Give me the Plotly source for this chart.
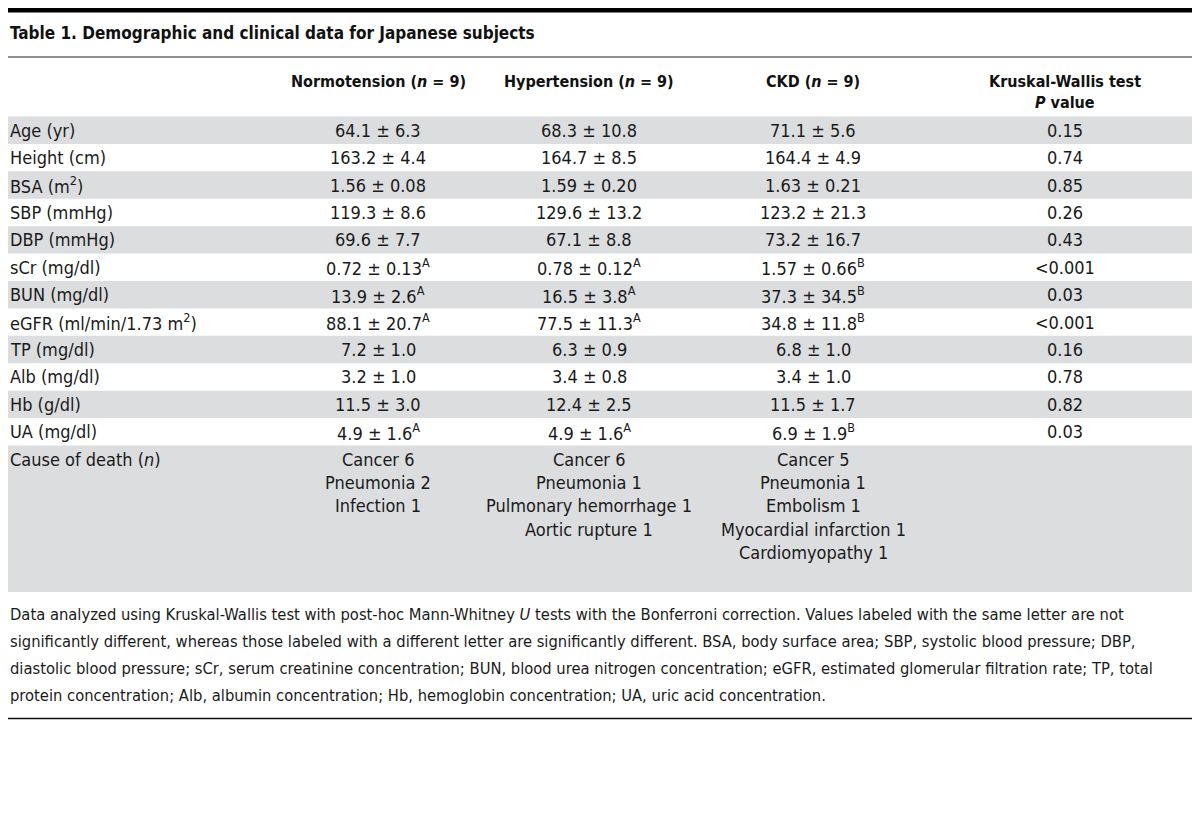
import plotly.graph_objects as go

# ---------------- data ----------------
title = "Table 1. Demographic and clinical data for Japanese subjects"
group_headers = ["Normotension (<i>n</i> = 9)", "Hypertension (<i>n</i> = 9)",
                 "CKD (<i>n</i> = 9)", "Kruskal-Wallis test"]
pvalue_header2 = "<i>P</i> value"
row_labels = ["Age (yr)", "Height (cm)", "BSA (m<sup>2</sup>)", "SBP (mmHg)", "DBP (mmHg)",
              "sCr (mg/dl)", "BUN (mg/dl)", "eGFR (ml/min/1.73 m<sup>2</sup>)", "TP (mg/dl)",
              "Alb (mg/dl)", "Hb (g/dl)", "UA (mg/dl)"]
normotension = ["64.1 ± 6.3", "163.2 ± 4.4", "1.56 ± 0.08", "119.3 ± 8.6", "69.6 ± 7.7",
                "0.72 ± 0.13", "13.9 ± 2.6", "88.1 ± 20.7", "7.2 ± 1.0", "3.2 ± 1.0",
                "11.5 ± 3.0", "4.9 ± 1.6"]
hypertension = ["68.3 ± 10.8", "164.7 ± 8.5", "1.59 ± 0.20", "129.6 ± 13.2", "67.1 ± 8.8",
                "0.78 ± 0.12", "16.5 ± 3.8", "77.5 ± 11.3", "6.3 ± 0.9", "3.4 ± 0.8",
                "12.4 ± 2.5", "4.9 ± 1.6"]
ckd = ["71.1 ± 5.6", "164.4 ± 4.9", "1.63 ± 0.21", "123.2 ± 21.3", "73.2 ± 16.7",
       "1.57 ± 0.66", "37.3 ± 34.5", "34.8 ± 11.8", "6.8 ± 1.0", "3.4 ± 1.0",
       "11.5 ± 1.7", "6.9 ± 1.9"]
normotension_sup = ["", "", "", "", "", "A", "A", "A", "", "", "", "A"]
hypertension_sup = ["", "", "", "", "", "A", "A", "A", "", "", "", "A"]
ckd_sup = ["", "", "", "", "", "B", "B", "B", "", "", "", "B"]
p_values = ["0.15", "0.74", "0.85", "0.26", "0.43", "<0.001", "0.03", "<0.001",
            "0.16", "0.78", "0.82", "0.03"]
death_label = "Cause of death (<i>n</i>)"
normotension_death = ["Cancer 6", "Pneumonia 2", "Infection 1"]
hypertension_death = ["Cancer 6", "Pneumonia 1", "Pulmonary hemorrhage 1", "Aortic rupture 1"]
ckd_death = ["Cancer 5", "Pneumonia 1", "Embolism 1", "Myocardial infarction 1", "Cardiomyopathy 1"]
footnote_lines = [
    "Data analyzed using Kruskal-Wallis test with post-hoc Mann-Whitney <i>U</i> tests with the Bonferroni correction. Values labeled with the same letter are not",
    "significantly different, whereas those labeled with a different letter are significantly different. BSA, body surface area; SBP, systolic blood pressure; DBP,",
    "diastolic blood pressure; sCr, serum creatinine concentration; BUN, blood urea nitrogen concentration; eGFR, estimated glomerular filtration rate; TP, total",
    "protein concentration; Alb, albumin concentration; Hb, hemoglobin concentration; UA, uric acid concentration.",
]

# ---------------- layout constants (page-pixel coordinates) ----------------
PAGE_W, PAGE_H = 1200, 833
OFF = 8                      # default page body margin
FIG_W, FIG_H = PAGE_W - 2 * OFF, PAGE_H - 2 * OFF
FONT = "DejaVu Sans Condensed, DejaVu Sans, sans-serif"
TXT = "#1a1a1a"
STRIPE = "#dcdddf"
FS = 18
col_x = [378, 589, 813, 1065]
label_x = OFF
row_top = 116.5
row_h = 27.42
death_bottom = 592
death_first = 459
death_step = 23.4
foot_y0 = 614
foot_step = 27

fig = go.Figure()
shapes = []
ann = []


def add_text(x, y, text, size=FS, xanchor="center", color=TXT):
    ann.append(dict(x=x, y=y, xref="x", yref="y", text=text, showarrow=False,
                    xanchor=xanchor, yanchor="middle",
                    font=dict(family=FONT, size=size, color=color)))


# top bar and rules
shapes.append(dict(type="rect", xref="x", yref="y", x0=0, x1=PAGE_W, y0=OFF, y1=OFF + 4.5,
                   fillcolor="#000000", line=dict(width=0), layer="below"))
shapes.append(dict(type="line", xref="x", yref="y", x0=0, x1=PAGE_W, y0=57, y1=57,
                   line=dict(color="#222222", width=1.2)))
shapes.append(dict(type="line", xref="x", yref="y", x0=0, x1=PAGE_W, y0=718.5, y1=718.5,
                   line=dict(color="#111111", width=1.5)))

# stripes
n_rows = len(row_labels) + 1
for i in range(n_rows):
    if i % 2 == 0:
        y0 = row_top + i * row_h
        y1 = y0 + row_h if i < len(row_labels) else death_bottom
        shapes.append(dict(type="rect", xref="x", yref="y", x0=0, x1=PAGE_W, y0=y0, y1=y1,
                           fillcolor=STRIPE, line=dict(width=0), layer="below"))

# title
add_text(label_x, 33, "<b>" + title + "</b>", size=17, xanchor="left", color="#111111")

# headers
for cx, h in zip(col_x, group_headers):
    add_text(cx, 81, "<b>" + h + "</b>", size=16, color="#111111")
add_text(col_x[3], 102, "<b>" + pvalue_header2 + "</b>", size=16, color="#111111")

# body rows
for i, lab in enumerate(row_labels):
    yc = row_top + (i + 0.5) * row_h
    add_text(label_x, yc, lab, xanchor="left")
    for cx, vals, sups in ((col_x[0], normotension, normotension_sup),
                           (col_x[1], hypertension, hypertension_sup),
                           (col_x[2], ckd, ckd_sup)):
        t = vals[i] + ("<sup>" + sups[i] + "</sup>" if sups[i] else "")
        add_text(cx, yc, t)
    add_text(col_x[3], yc, p_values[i])

# cause of death
add_text(label_x, death_first, death_label, xanchor="left")
for cx, lst in ((col_x[0], normotension_death), (col_x[1], hypertension_death),
                (col_x[2], ckd_death)):
    for j, s in enumerate(lst):
        add_text(cx, death_first + j * death_step, s)

# footnote
for k, line in enumerate(footnote_lines):
    add_text(label_x, foot_y0 + k * foot_step, line, size=16.4, xanchor="left")

fig.update_layout(
    width=FIG_W, height=FIG_H, margin=dict(l=0, r=0, t=0, b=0),
    paper_bgcolor="white", plot_bgcolor="white",
    xaxis=dict(range=[OFF, OFF + FIG_W], visible=False, fixedrange=True),
    yaxis=dict(range=[OFF + FIG_H, OFF], visible=False, fixedrange=True),
    shapes=shapes, annotations=ann, showlegend=False,
)
fig.write_html("out.html")
